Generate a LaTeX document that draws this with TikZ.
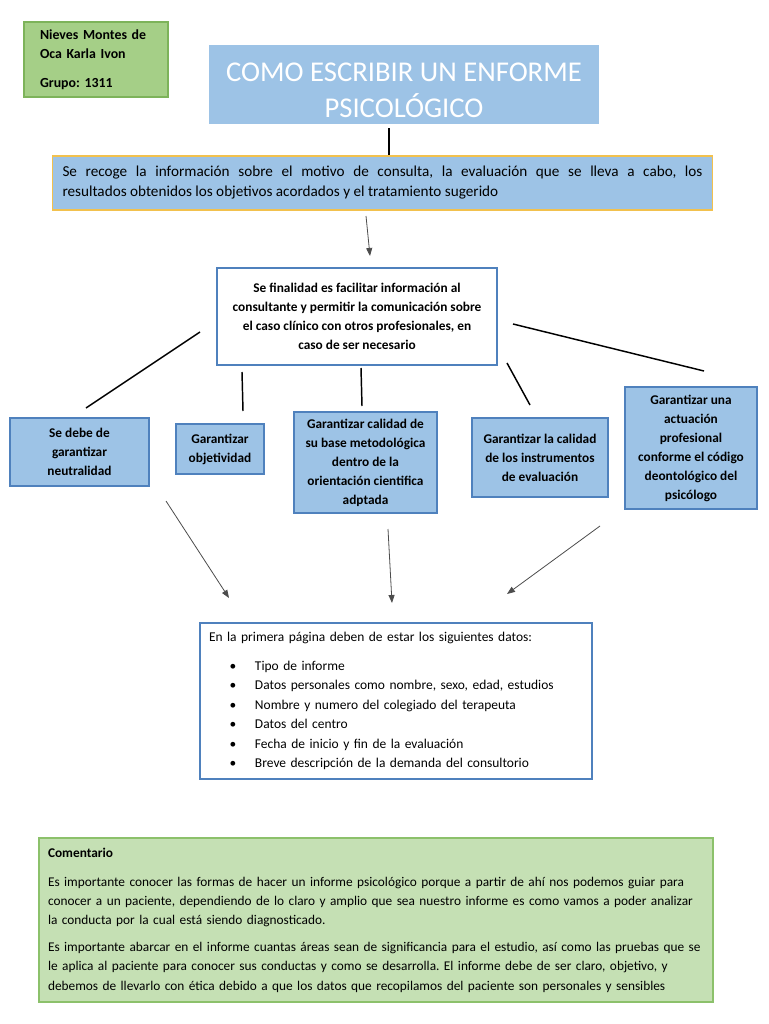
\documentclass[tikz,border=0pt]{standalone}
\usepackage{fontspec}
\setmainfont{Carlito}
\frenchspacing
\usetikzlibrary{arrows.meta}
\definecolor{cajaazul}{HTML}{9DC3E6}
\definecolor{bordeazul}{HTML}{4F81BD}
\definecolor{oro}{HTML}{F2C14E}
\definecolor{verde}{HTML}{A5CF87}
\definecolor{bordeverde}{HTML}{7DB35A}
\definecolor{verdeclaro}{HTML}{C5E0B4}
\definecolor{bordeclaro}{HTML}{8CC16B}
\begin{document}
\begin{tikzpicture}[x=0.75pt,y=-0.75pt,>={Triangle[length=6pt,width=4.5pt]},
    caja/.style={draw=bordeazul, line width=1.4pt, fill=cajaazul, rectangle, inner sep=0pt, align=center, font=\fontsize{10}{14.25}\selectfont\bfseries},
    linea/.style={line width=1.1pt},
    flecha/.style={->, line width=0.6pt, draw=black!70}]
    \fill[white] (0,0) rectangle (768,1024);
    \useasboundingbox (0,0) rectangle (768,1024);

    % cabecera
    \node (alumna) [draw=bordeverde, line width=0.8pt, fill=verde, rectangle, minimum width=108pt, minimum height=56.25pt, inner xsep=12pt, text width=84pt, align=left, font=\fontsize{10.4}{14.25}\selectfont\bfseries] at (96,59.5)
        {Nieves Montes de\\Oca Karla Ivon\\[7.5pt]Grupo: 1311};
    \node (titulo) [fill=cajaazul, rectangle, minimum width=292.5pt, minimum height=59.25pt, inner sep=0pt, align=center, text=white, font=\fontsize{21.5}{27}\selectfont] at (404,84.5)
        {\rule{0pt}{23pt}COMO ESCRIBIR UN ENFORME\\PSICOLÓGICO};
    \node (recoge) [draw=oro, line width=1.4pt, fill=cajaazul, rectangle, minimum width=494.25pt, minimum height=40.5pt, inner xsep=7.5pt, inner ysep=0pt, text width=480pt, align=justify, font=\fontsize{11.4}{15}\selectfont] at (382.5,183)
        {Se recoge la información sobre el motivo de consulta, la evaluación que se lleva a cabo, los\linebreak resultados obtenidos los objetivos acordados y el tratamiento sugerido};
    \node (fin) [caja, fill=white, minimum width=210pt, minimum height=72.75pt] at (357,316.5)
        {Se finalidad es facilitar información al\\consultante y permitir la comunicación sobre\\el caso clínico con otros profesionales, en\\caso de ser necesario};

    % fila de cajas
    \node (neutral) [caja, minimum width=104.25pt, minimum height=51pt] at (79.5,452)
        {Se debe de\\garantizar\\neutralidad};
    \node (objetiv) [caja, minimum width=66pt, minimum height=37.5pt] at (220,449)
        {Garantizar\\objetividad};
    \node (metodo) [caja, minimum width=107.25pt, minimum height=75.75pt] at (365.5,462.5)
        {Garantizar calidad de\\su base metodológica\\dentro de la\\orientación cientifica\\adptada};
    \node (instrum) [caja, minimum width=102pt, minimum height=59.25pt] at (540,457.5)
        {Garantizar la calidad\\de los instrumentos\\de evaluación};
    \node (deonto) [caja, minimum width=99pt, minimum height=91.5pt] at (691,448)
        {Garantizar una\\actuación\\profesional\\conforme el código\\deontológico del\\psicólogo};

    \node (datos) [draw=bordeazul, line width=0.8pt, fill=white, rectangle, minimum width=294pt, minimum height=117pt, inner xsep=6.75pt, text width=280.5pt, align=left, font=\fontsize{10.1}{14.6}\selectfont] at (396,701)
        {En la primera página deben de estar los siguientes datos:\\[7pt]
        \hspace*{15.5pt}\makebox[19pt][l]{\textbullet}Tipo de informe\\
        \hspace*{15.5pt}\makebox[19pt][l]{\textbullet}Datos personales como nombre, sexo, edad, estudios\\
        \hspace*{15.5pt}\makebox[19pt][l]{\textbullet}Nombre y numero del colegiado del terapeuta\\
        \hspace*{15.5pt}\makebox[19pt][l]{\textbullet}Datos del centro\\
        \hspace*{15.5pt}\makebox[19pt][l]{\textbullet}Fecha de inicio y fin de la evaluación\\
        \hspace*{15.5pt}\makebox[19pt][l]{\textbullet}Breve descripción de la demanda del consultorio};

    \node (comenta) [draw=bordeclaro, line width=0.8pt, fill=verdeclaro, rectangle, minimum width=505.5pt, minimum height=123pt, inner xsep=6.75pt, text width=492pt, align=left, font=\fontsize{10}{14.6}\selectfont] at (376,920)
        {\textbf{Comentario}\\[7pt]
        \mbox{Es importante conocer las formas de hacer un informe psicológico porque a partir de ahí nos podemos guiar para}\\
        \mbox{conocer a un paciente, dependiendo de lo claro y amplio que sea nuestro informe es como vamos a poder analizar}\\
        \mbox{la conducta por la cual está siendo diagnosticado.}\\[5pt]
        \mbox{Es importante abarcar en el informe cuantas áreas sean de significancia para el estudio, así como las pruebas que se}\\
        \mbox{le aplica al paciente para conocer sus conductas y como se desarrolla. El informe debe de ser claro, objetivo, y}\\
        \mbox{debemos de llevarlo con ética debido a que los datos que recopilamos del paciente son personales y sensibles}};

    % extremos libres de las lineas
    \coordinate (t1) at (389,128);   \coordinate (t2) at (389,155);
    \coordinate (r1) at (366,216);   \coordinate (r2) at (370,256);
    \coordinate (n1) at (200,332);   \coordinate (n2) at (86,408);
    \coordinate (o1) at (242,372);   \coordinate (o2) at (243,411);
    \coordinate (m1) at (361,368);   \coordinate (m2) at (362,406);
    \coordinate (i1) at (507,363);   \coordinate (i2) at (530,405);
    \coordinate (d1) at (513,324);   \coordinate (d2) at (704,371);
    \coordinate (a1) at (166,501);   \coordinate (a2) at (229,598);
    \coordinate (b1) at (388,529);   \coordinate (b2) at (392,603);
    \coordinate (c1) at (600,526);   \coordinate (c2) at (507,594);

    \draw[line width=1.5pt] (t1) -- (t2);
    \draw[flecha] (r1) -- (r2);
    \draw[linea] (n1) -- (n2);
    \draw[linea] (o1) -- (o2);
    \draw[linea] (m1) -- (m2);
    \draw[linea] (i1) -- (i2);
    \draw[linea] (d1) -- (d2);
    \draw[flecha] (a1) -- (a2);
    \draw[flecha] (b1) -- (b2);
    \draw[flecha] (c1) -- (c2);
\end{tikzpicture}
\end{document}
